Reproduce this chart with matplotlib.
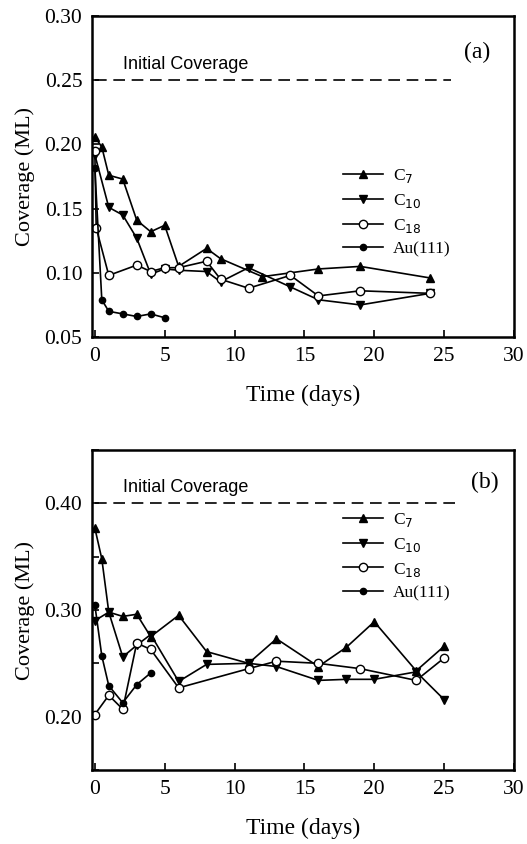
import matplotlib
matplotlib.use("Agg")
import matplotlib.pyplot as plt
from matplotlib.ticker import MultipleLocator, FormatStrFormatter

plt.rcParams['font.family'] = ['Liberation Serif', 'DejaVu Serif']

# panel (a)
days_c7_a = [0, 0.5, 1, 2, 3, 4, 5, 6, 8, 9, 12, 16, 19, 24]
c7_a = [0.206, 0.198, 0.176, 0.173, 0.141, 0.132, 0.137, 0.105, 0.119, 0.111, 0.097, 0.103, 0.105, 0.096]
days_c10_a = [0, 1, 2, 3, 4, 5, 6, 8, 9, 11, 14, 16, 19, 24]
c10_a = [0.192, 0.151, 0.145, 0.127, 0.099, 0.103, 0.102, 0.101, 0.093, 0.104, 0.089, 0.079, 0.075, 0.084]
days_c18_a = [0, 0.1, 1, 3, 4, 5, 6, 8, 9, 11, 14, 16, 19, 24]
c18_a = [0.195, 0.135, 0.098, 0.106, 0.101, 0.104, 0.104, 0.109, 0.095, 0.088, 0.098, 0.082, 0.086, 0.084]
days_au_a = [0, 0.5, 1, 2, 3, 4, 5]
au_a = [0.182, 0.079, 0.070, 0.068, 0.066, 0.068, 0.065]
initial_a = 0.25

# panel (b)
days_c7_b = [0, 0.5, 1, 2, 3, 4, 6, 8, 11, 13, 16, 18, 20, 23, 25]
c7_b = [0.377, 0.348, 0.298, 0.294, 0.296, 0.275, 0.295, 0.261, 0.250, 0.273, 0.247, 0.265, 0.289, 0.243, 0.266]
days_c10_b = [0, 1, 2, 3, 4, 6, 8, 11, 13, 16, 18, 20, 23, 25]
c10_b = [0.290, 0.298, 0.256, 0.267, 0.277, 0.233, 0.249, 0.250, 0.247, 0.234, 0.235, 0.235, 0.242, 0.216]
days_c18_b = [0, 1, 2, 3, 4, 6, 11, 13, 16, 19, 23, 25]
c18_b = [0.202, 0.220, 0.207, 0.269, 0.263, 0.227, 0.245, 0.252, 0.250, 0.245, 0.234, 0.255]
days_au_b = [0, 0.5, 1, 2, 3, 4]
au_b = [0.305, 0.257, 0.229, 0.213, 0.230, 0.241]
initial_b = 0.40

labels = ['C$_7$', 'C$_{10}$', 'C$_{18}$', 'Au(111)']

fig = plt.figure(figsize=(5.27, 8.44), dpi=100)
ax_a = fig.add_axes([0.1746, 0.6007, 0.8007, 0.3803])
ax_b = fig.add_axes([0.1746, 0.0877, 0.8007, 0.3791])


def draw(ax, series, initial, end, tag, tag_xy, ylim, major, minor, leg_y):
    styles = [dict(marker='^', ms=6, mfc='black'),
              dict(marker='v', ms=6, mfc='black'),
              dict(marker='o', ms=6, mfc='white'),
              dict(marker='o', ms=4.5, mfc='black')]
    handles = []
    for (x, y), st, lab in zip(series, styles, labels):
        h, = ax.plot(x, y, color='black', lw=1.2, mec='black', mew=1.0, label=lab, **st)
        handles.append(h)
    ax.plot([0, end], [initial, initial], color='black', lw=1.2, dashes=(7, 4))
    ax.annotate('Initial Coverage', xy=(2.0, initial), xytext=(0, 5),
                textcoords='offset points', family='Liberation Sans', fontsize=13, va='bottom')
    ax.text(tag_xy[0], tag_xy[1], tag, transform=ax.transAxes, fontsize=17,
            ha='center', va='center')
    ax.legend(handles=handles, loc='upper left', bbox_to_anchor=(0.578, leg_y),
              frameon=False, fontsize=12.5, handlelength=2.3, handletextpad=0.6,
              labelspacing=0.38, borderaxespad=0)
    ax.set_xlim(-0.2, 30)
    ax.set_ylim(*ylim)
    ax.xaxis.set_major_locator(MultipleLocator(5))
    ax.yaxis.set_major_locator(MultipleLocator(major))
    ax.yaxis.set_major_formatter(FormatStrFormatter('%.2f'))
    if minor:
        ax.yaxis.set_minor_locator(MultipleLocator(minor))
    ax.tick_params(direction='in', length=5, width=1.2, labelsize=15.5, pad=7)
    ax.tick_params(which='minor', direction='in', length=5, width=1.2)
    for s in ax.spines.values():
        s.set_linewidth(1.8)
    ax.set_xlabel('Time (days)', fontsize=17, labelpad=14)
    ax.set_ylabel('Coverage (ML)', fontsize=16, labelpad=7)


draw(ax_a, [(days_c7_a, c7_a), (days_c10_a, c10_a), (days_c18_a, c18_a), (days_au_a, au_a)],
     initial_a, 25.5, '(a)', (0.912, 0.885), (0.05, 0.30), 0.05, None, 0.55)
draw(ax_b, [(days_c7_b, c7_b), (days_c10_b, c10_b), (days_c18_b, c18_b), (days_au_b, au_b)],
     initial_b, 26.1, '(b)', (0.931, 0.90), (0.15, 0.45), 0.10, 0.05, 0.83)

fig.savefig('out.png', dpi=100)
